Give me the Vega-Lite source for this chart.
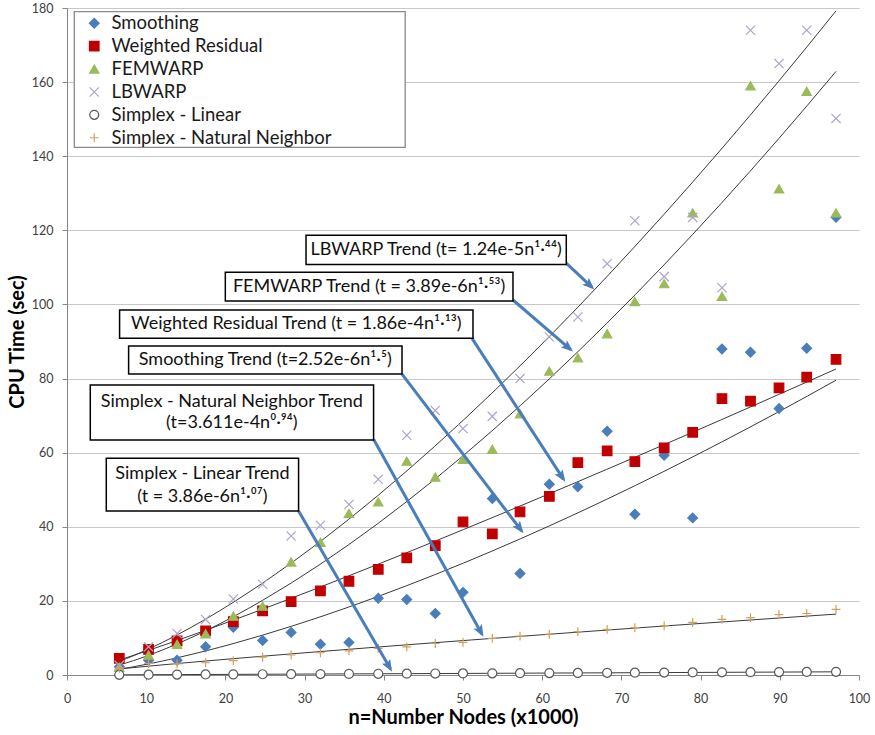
{
  "$schema": "https://vega.github.io/schema/vega-lite/v6.json",
  "width": 792,
  "height": 667,
  "autosize": {"type": "none"},
  "padding": {"left": 67, "top": 8, "right": 16, "bottom": 60},
  "background": "white",
  "config": {
    "font": "Lato",
    "view": {"stroke": null},
    "axisX": {"grid": false, "domainColor": "#868686", "tickColor": "#868686", "tickSize": 5, "labelFontSize": 12.5, "labelColor": "#404040", "labelPadding": 12, "labelFlush": false, "titleFontSize": 20, "titleFontWeight": "bold", "titleColor": "#000000", "titlePadding": 3},
    "axisY": {"grid": true, "gridColor": "#c8c8c8", "domainColor": "#868686", "tickColor": "#868686", "tickSize": 5, "labelFontSize": 12.5, "labelColor": "#404040", "labelPadding": 9, "titleFontSize": 20, "titleFontWeight": "bold", "titleColor": "#000000", "titlePadding": 4},
    "legend": {"labelFontSize": 18.5, "labelLimit": 400, "labelColor": "#1a1a1a", "labelFont": "Lato", "rowPadding": 3.9, "padding": 0, "symbolOffset": 0, "labelOffset": 8, "symbolStrokeWidth": 1.2, "strokeColor": null, "fillColor": null}
  },
  "datasets": {
    "points": [
      {"n": 6.6, "t": 2.2, "series": "Smoothing"},
      {"n": 10.3, "t": 4.0, "series": "Smoothing"},
      {"n": 13.9, "t": 4.0, "series": "Smoothing"},
      {"n": 17.5, "t": 7.6, "series": "Smoothing"},
      {"n": 21.0, "t": 12.9, "series": "Smoothing"},
      {"n": 24.7, "t": 9.3, "series": "Smoothing"},
      {"n": 28.3, "t": 11.5, "series": "Smoothing"},
      {"n": 32.0, "t": 8.3, "series": "Smoothing"},
      {"n": 35.6, "t": 8.8, "series": "Smoothing"},
      {"n": 39.3, "t": 20.7, "series": "Smoothing"},
      {"n": 42.9, "t": 20.4, "series": "Smoothing"},
      {"n": 46.5, "t": 16.6, "series": "Smoothing"},
      {"n": 50.0, "t": 22.3, "series": "Smoothing"},
      {"n": 53.7, "t": 47.6, "series": "Smoothing"},
      {"n": 57.2, "t": 27.4, "series": "Smoothing"},
      {"n": 60.9, "t": 51.5, "series": "Smoothing"},
      {"n": 64.5, "t": 50.8, "series": "Smoothing"},
      {"n": 68.2, "t": 65.8, "series": "Smoothing"},
      {"n": 71.7, "t": 43.4, "series": "Smoothing"},
      {"n": 75.4, "t": 59.3, "series": "Smoothing"},
      {"n": 79.0, "t": 42.4, "series": "Smoothing"},
      {"n": 82.7, "t": 88.0, "series": "Smoothing"},
      {"n": 86.3, "t": 87.1, "series": "Smoothing"},
      {"n": 89.9, "t": 71.9, "series": "Smoothing"},
      {"n": 93.4, "t": 88.2, "series": "Smoothing"},
      {"n": 97.1, "t": 123.5, "series": "Smoothing"},
      {"n": 6.6, "t": 4.5, "series": "Weighted Residual"},
      {"n": 10.3, "t": 6.9, "series": "Weighted Residual"},
      {"n": 13.9, "t": 9.2, "series": "Weighted Residual"},
      {"n": 17.5, "t": 11.9, "series": "Weighted Residual"},
      {"n": 21.0, "t": 14.4, "series": "Weighted Residual"},
      {"n": 24.7, "t": 17.3, "series": "Weighted Residual"},
      {"n": 28.3, "t": 19.8, "series": "Weighted Residual"},
      {"n": 32.0, "t": 22.7, "series": "Weighted Residual"},
      {"n": 35.6, "t": 25.3, "series": "Weighted Residual"},
      {"n": 39.3, "t": 28.5, "series": "Weighted Residual"},
      {"n": 42.9, "t": 31.6, "series": "Weighted Residual"},
      {"n": 46.5, "t": 34.9, "series": "Weighted Residual"},
      {"n": 50.0, "t": 41.3, "series": "Weighted Residual"},
      {"n": 53.7, "t": 38.1, "series": "Weighted Residual"},
      {"n": 57.2, "t": 44.0, "series": "Weighted Residual"},
      {"n": 60.9, "t": 48.2, "series": "Weighted Residual"},
      {"n": 64.5, "t": 57.3, "series": "Weighted Residual"},
      {"n": 68.2, "t": 60.5, "series": "Weighted Residual"},
      {"n": 71.7, "t": 57.6, "series": "Weighted Residual"},
      {"n": 75.4, "t": 61.3, "series": "Weighted Residual"},
      {"n": 79.0, "t": 65.5, "series": "Weighted Residual"},
      {"n": 82.7, "t": 74.6, "series": "Weighted Residual"},
      {"n": 86.3, "t": 73.9, "series": "Weighted Residual"},
      {"n": 89.9, "t": 77.5, "series": "Weighted Residual"},
      {"n": 93.4, "t": 80.4, "series": "Weighted Residual"},
      {"n": 97.1, "t": 85.2, "series": "Weighted Residual"},
      {"n": 6.6, "t": 2.1, "series": "FEMWARP"},
      {"n": 10.3, "t": 5.4, "series": "FEMWARP"},
      {"n": 13.9, "t": 8.3, "series": "FEMWARP"},
      {"n": 17.5, "t": 11.1, "series": "FEMWARP"},
      {"n": 21.0, "t": 15.9, "series": "FEMWARP"},
      {"n": 24.7, "t": 18.6, "series": "FEMWARP"},
      {"n": 28.3, "t": 30.5, "series": "FEMWARP"},
      {"n": 32.0, "t": 35.8, "series": "FEMWARP"},
      {"n": 35.6, "t": 43.6, "series": "FEMWARP"},
      {"n": 39.3, "t": 46.7, "series": "FEMWARP"},
      {"n": 42.9, "t": 57.7, "series": "FEMWARP"},
      {"n": 46.5, "t": 53.4, "series": "FEMWARP"},
      {"n": 50.0, "t": 58.2, "series": "FEMWARP"},
      {"n": 53.7, "t": 60.9, "series": "FEMWARP"},
      {"n": 57.2, "t": 70.5, "series": "FEMWARP"},
      {"n": 60.9, "t": 82.0, "series": "FEMWARP"},
      {"n": 64.5, "t": 85.6, "series": "FEMWARP"},
      {"n": 68.2, "t": 92.1, "series": "FEMWARP"},
      {"n": 71.7, "t": 100.8, "series": "FEMWARP"},
      {"n": 75.4, "t": 105.6, "series": "FEMWARP"},
      {"n": 79.0, "t": 124.7, "series": "FEMWARP"},
      {"n": 82.7, "t": 102.2, "series": "FEMWARP"},
      {"n": 86.3, "t": 159.0, "series": "FEMWARP"},
      {"n": 89.9, "t": 131.2, "series": "FEMWARP"},
      {"n": 93.4, "t": 157.5, "series": "FEMWARP"},
      {"n": 97.1, "t": 124.7, "series": "FEMWARP"},
      {"n": 6.6, "t": 2.6, "series": "LBWARP"},
      {"n": 10.3, "t": 7.6, "series": "LBWARP"},
      {"n": 13.9, "t": 11.2, "series": "LBWARP"},
      {"n": 17.5, "t": 15.0, "series": "LBWARP"},
      {"n": 21.0, "t": 20.5, "series": "LBWARP"},
      {"n": 24.7, "t": 24.5, "series": "LBWARP"},
      {"n": 28.3, "t": 37.5, "series": "LBWARP"},
      {"n": 32.0, "t": 40.4, "series": "LBWARP"},
      {"n": 35.6, "t": 46.0, "series": "LBWARP"},
      {"n": 39.3, "t": 52.8, "series": "LBWARP"},
      {"n": 42.9, "t": 64.7, "series": "LBWARP"},
      {"n": 46.5, "t": 71.4, "series": "LBWARP"},
      {"n": 50.0, "t": 66.5, "series": "LBWARP"},
      {"n": 53.7, "t": 69.8, "series": "LBWARP"},
      {"n": 57.2, "t": 80.0, "series": "LBWARP"},
      {"n": 60.9, "t": 91.2, "series": "LBWARP"},
      {"n": 64.5, "t": 96.6, "series": "LBWARP"},
      {"n": 68.2, "t": 111.0, "series": "LBWARP"},
      {"n": 71.7, "t": 122.6, "series": "LBWARP"},
      {"n": 75.4, "t": 107.5, "series": "LBWARP"},
      {"n": 79.0, "t": 123.5, "series": "LBWARP"},
      {"n": 82.7, "t": 104.5, "series": "LBWARP"},
      {"n": 86.3, "t": 174.0, "series": "LBWARP"},
      {"n": 89.9, "t": 165.0, "series": "LBWARP"},
      {"n": 93.4, "t": 174.0, "series": "LBWARP"},
      {"n": 97.1, "t": 150.2, "series": "LBWARP"},
      {"n": 6.6, "t": 0.05, "series": "Simplex - Linear"},
      {"n": 10.3, "t": 0.08, "series": "Simplex - Linear"},
      {"n": 13.9, "t": 0.11, "series": "Simplex - Linear"},
      {"n": 17.5, "t": 0.14, "series": "Simplex - Linear"},
      {"n": 21.0, "t": 0.17, "series": "Simplex - Linear"},
      {"n": 24.7, "t": 0.2, "series": "Simplex - Linear"},
      {"n": 28.3, "t": 0.23, "series": "Simplex - Linear"},
      {"n": 32.0, "t": 0.26, "series": "Simplex - Linear"},
      {"n": 35.6, "t": 0.3, "series": "Simplex - Linear"},
      {"n": 39.3, "t": 0.33, "series": "Simplex - Linear"},
      {"n": 42.9, "t": 0.36, "series": "Simplex - Linear"},
      {"n": 46.5, "t": 0.4, "series": "Simplex - Linear"},
      {"n": 50.0, "t": 0.43, "series": "Simplex - Linear"},
      {"n": 53.7, "t": 0.46, "series": "Simplex - Linear"},
      {"n": 57.2, "t": 0.49, "series": "Simplex - Linear"},
      {"n": 60.9, "t": 0.52, "series": "Simplex - Linear"},
      {"n": 64.5, "t": 0.56, "series": "Simplex - Linear"},
      {"n": 68.2, "t": 0.59, "series": "Simplex - Linear"},
      {"n": 71.7, "t": 0.62, "series": "Simplex - Linear"},
      {"n": 75.4, "t": 0.66, "series": "Simplex - Linear"},
      {"n": 79.0, "t": 0.69, "series": "Simplex - Linear"},
      {"n": 82.7, "t": 0.72, "series": "Simplex - Linear"},
      {"n": 86.3, "t": 0.76, "series": "Simplex - Linear"},
      {"n": 89.9, "t": 0.79, "series": "Simplex - Linear"},
      {"n": 93.4, "t": 0.82, "series": "Simplex - Linear"},
      {"n": 97.1, "t": 0.86, "series": "Simplex - Linear"},
      {"n": 6.6, "t": 1.8, "series": "Simplex - Natural Neighbor"},
      {"n": 10.3, "t": 3.1, "series": "Simplex - Natural Neighbor"},
      {"n": 13.9, "t": 3.0, "series": "Simplex - Natural Neighbor"},
      {"n": 17.5, "t": 3.3, "series": "Simplex - Natural Neighbor"},
      {"n": 21.0, "t": 3.9, "series": "Simplex - Natural Neighbor"},
      {"n": 24.7, "t": 4.8, "series": "Simplex - Natural Neighbor"},
      {"n": 28.3, "t": 5.4, "series": "Simplex - Natural Neighbor"},
      {"n": 32.0, "t": 6.0, "series": "Simplex - Natural Neighbor"},
      {"n": 35.6, "t": 6.5, "series": "Simplex - Natural Neighbor"},
      {"n": 39.3, "t": 7.2, "series": "Simplex - Natural Neighbor"},
      {"n": 42.9, "t": 7.6, "series": "Simplex - Natural Neighbor"},
      {"n": 46.5, "t": 8.5, "series": "Simplex - Natural Neighbor"},
      {"n": 50.0, "t": 8.8, "series": "Simplex - Natural Neighbor"},
      {"n": 53.7, "t": 9.9, "series": "Simplex - Natural Neighbor"},
      {"n": 57.2, "t": 10.5, "series": "Simplex - Natural Neighbor"},
      {"n": 60.9, "t": 11.0, "series": "Simplex - Natural Neighbor"},
      {"n": 64.5, "t": 11.7, "series": "Simplex - Natural Neighbor"},
      {"n": 68.2, "t": 12.3, "series": "Simplex - Natural Neighbor"},
      {"n": 71.7, "t": 12.8, "series": "Simplex - Natural Neighbor"},
      {"n": 75.4, "t": 13.3, "series": "Simplex - Natural Neighbor"},
      {"n": 79.0, "t": 14.2, "series": "Simplex - Natural Neighbor"},
      {"n": 82.7, "t": 15.0, "series": "Simplex - Natural Neighbor"},
      {"n": 86.3, "t": 15.5, "series": "Simplex - Natural Neighbor"},
      {"n": 89.9, "t": 16.3, "series": "Simplex - Natural Neighbor"},
      {"n": 93.4, "t": 16.6, "series": "Simplex - Natural Neighbor"},
      {"n": 97.1, "t": 17.7, "series": "Simplex - Natural Neighbor"}
    ],
    "frame": [
      {"x1": 0.92, "x2": 42.7, "y1": 179.0, "y2": 142.4}
    ],
    "boxes": [
      {"label": "LBWARP", "x1": 30.18, "x2": 63.04, "y1": 118.7, "y2": 110.8},
      {"label": "FEMWARP", "x1": 19.99, "x2": 56.31, "y1": 108.66, "y2": 100.92},
      {"label": "WR", "x1": 6.64, "x2": 51.26, "y1": 98.49, "y2": 90.85},
      {"label": "Smoothing", "x1": 7.78, "x2": 42.3, "y1": 88.77, "y2": 81.22},
      {"label": "NN", "x1": 2.94, "x2": 38.71, "y1": 78.25, "y2": 63.41},
      {"label": "SL", "x1": 4.96, "x2": 29.24, "y1": 58.47, "y2": 44.25}
    ],
    "texts": [
      {"text": "LBWARP Trend (t= 1.24e-5n¹·⁴⁴)", "x": 46.6, "y": 114.75},
      {"text": "FEMWARP  Trend (t = 3.89e-6n¹·⁵³)", "x": 38.15, "y": 104.8},
      {"text": "Weighted Residual Trend (t = 1.86e-4n¹·¹³)", "x": 28.95, "y": 94.67},
      {"text": "Smoothing Trend (t=2.52e-6n¹·⁵)", "x": 25.04, "y": 85.0},
      {"text": "Simplex - Natural Neighbor Trend", "x": 20.82, "y": 73.7},
      {"text": "(t=3.611e-4n⁰·⁹⁴)", "x": 20.82, "y": 67.9},
      {"text": "Simplex - Linear Trend", "x": 17.1, "y": 54.2},
      {"text": "(t = 3.86e-6n¹·⁰⁷)", "x": 17.1, "y": 48.1}
    ],
    "arrows": [
      {"label": "LBWARP", "x1": 62.9, "y1": 111.4, "x2": 66.3, "y2": 104.6},
      {"label": "FEMWARP", "x1": 56.31, "y1": 101.2, "x2": 63.6, "y2": 87.8},
      {"label": "WR", "x1": 51.14, "y1": 90.85, "x2": 62.7, "y2": 52.8},
      {"label": "Smoothing", "x1": 42.3, "y1": 81.22, "x2": 57.4, "y2": 38.9},
      {"label": "NN", "x1": 38.71, "y1": 63.6, "x2": 52.4, "y2": 11.0},
      {"label": "SL", "x1": 29.24, "y1": 44.25, "x2": 40.85, "y2": 1.6}
    ]
  },
  "layer": [
    {
      "data": {"name": "frame"},
      "mark": {"type": "rect", "fill": "#ffffff", "stroke": "#8a8a8a", "strokeWidth": 1.3},
      "encoding": {
        "x": {"field": "x1", "type": "quantitative", "scale": {"domain": [0, 100], "nice": false}, "axis": {"values": [0,10,20,30,40,50,60,70,80,90,100], "title": "n=Number Nodes (x1000)"}},
        "x2": {"field": "x2"},
        "y": {"field": "y1", "type": "quantitative", "scale": {"domain": [0, 180], "nice": false}, "axis": {"values": [0,20,40,60,80,100,120,140,160,180], "title": "CPU Time (sec)"}},
        "y2": {"field": "y2"}
      }
    },
    {
      "data": {"name": "points"},
      "transform": [{"regression": "t", "on": "n", "groupby": ["series"], "method": "pow"}],
      "mark": {"type": "line", "color": "#3a3a3a", "strokeWidth": 1, "clip": true},
      "encoding": {
        "x": {"field": "n", "type": "quantitative", "scale": {"domain": [0, 100], "nice": false}, "axis": {"values": [0,10,20,30,40,50,60,70,80,90,100], "title": "n=Number Nodes (x1000)"}},
        "y": {"field": "t", "type": "quantitative", "scale": {"domain": [0, 180], "nice": false}, "axis": {"values": [0,20,40,60,80,100,120,140,160,180], "title": "CPU Time (sec)"}},
        "detail": {"field": "series", "type": "nominal"}
      }
    },
    {
      "data": {"name": "points"},
      "mark": {"type": "point", "opacity": 1, "strokeWidth": 1.2},
      "encoding": {
        "x": {"field": "n", "type": "quantitative", "scale": {"domain": [0, 100], "nice": false}, "axis": {"values": [0,10,20,30,40,50,60,70,80,90,100], "title": "n=Number Nodes (x1000)"}},
        "y": {"field": "t", "type": "quantitative", "scale": {"domain": [0, 180], "nice": false}, "axis": {"values": [0,20,40,60,80,100,120,140,160,180], "title": "CPU Time (sec)"}},
        "fill": {"field": "series", "type": "nominal", "scale": {"domain": ["Smoothing", "Weighted Residual", "FEMWARP", "LBWARP", "Simplex - Linear", "Simplex - Natural Neighbor"], "range": ["#4A7EBB", "#C00000", "#9BBB59", "transparent", "#ffffff", "transparent"]}, "legend": {"orient": "none", "legendX": 18, "legendY": 6, "title": null}},
        "stroke": {"field": "series", "type": "nominal", "scale": {"domain": ["Smoothing", "Weighted Residual", "FEMWARP", "LBWARP", "Simplex - Linear", "Simplex - Natural Neighbor"], "range": ["#4A7EBB", "#C00000", "#9BBB59", "#AFA3CC", "#5a5a5a", "#D2A05E"]}, "legend": {"orient": "none", "legendX": 18, "legendY": 6, "title": null}},
        "shape": {"field": "series", "type": "nominal", "scale": {"domain": ["Smoothing", "Weighted Residual", "FEMWARP", "LBWARP", "Simplex - Linear", "Simplex - Natural Neighbor"], "range": ["diamond", "square", "triangle-up", "M-1,-1L1,1M-1,1L1,-1", "circle", "M-1,0L1,0M0,-1L0,1"]}, "legend": {"orient": "none", "legendX": 18, "legendY": 6, "title": null}},
        "size": {"field": "series", "type": "nominal", "scale": {"domain": ["Smoothing", "Weighted Residual", "FEMWARP", "LBWARP", "Simplex - Linear", "Simplex - Natural Neighbor"], "range": [95, 78, 105, 115, 120, 100]}, "legend": {"orient": "none", "legendX": 18, "legendY": 6, "title": null}}
      }
    },
    {
      "data": {"name": "arrows"},
      "mark": {"type": "rule", "color": "#4A7EBB", "strokeWidth": 3},
      "encoding": {
        "x": {"field": "x1", "type": "quantitative", "scale": {"domain": [0, 100], "nice": false}, "axis": {"values": [0,10,20,30,40,50,60,70,80,90,100], "title": "n=Number Nodes (x1000)"}},
        "y": {"field": "y1", "type": "quantitative", "scale": {"domain": [0, 180], "nice": false}, "axis": {"values": [0,20,40,60,80,100,120,140,160,180], "title": "CPU Time (sec)"}},
        "x2": {"field": "x2"},
        "y2": {"field": "y2"}
      }
    },
    {
      "data": {"name": "arrows"},
      "transform": [{"filter": "datum.label == 'LBWARP'"}],
      "mark": {"type": "point", "shape": "M0,-0.5L0.8,1.5L0,1.1L-0.8,1.5Z", "size": 144, "filled": true, "opacity": 1, "color": "#4A7EBB", "angle": 132.9},
      "encoding": {"x": {"field": "x2", "type": "quantitative", "scale": {"domain": [0, 100], "nice": false}, "axis": {"values": [0,10,20,30,40,50,60,70,80,90,100], "title": "n=Number Nodes (x1000)"}}, "y": {"field": "y2", "type": "quantitative", "scale": {"domain": [0, 180], "nice": false}, "axis": {"values": [0,20,40,60,80,100,120,140,160,180], "title": "CPU Time (sec)"}}}
    },
    {
      "data": {"name": "arrows"},
      "transform": [{"filter": "datum.label == 'FEMWARP'"}],
      "mark": {"type": "point", "shape": "M0,-0.5L0.8,1.5L0,1.1L-0.8,1.5Z", "size": 144, "filled": true, "opacity": 1, "color": "#4A7EBB", "angle": 130.5},
      "encoding": {"x": {"field": "x2", "type": "quantitative", "scale": {"domain": [0, 100], "nice": false}, "axis": {"values": [0,10,20,30,40,50,60,70,80,90,100], "title": "n=Number Nodes (x1000)"}}, "y": {"field": "y2", "type": "quantitative", "scale": {"domain": [0, 180], "nice": false}, "axis": {"values": [0,20,40,60,80,100,120,140,160,180], "title": "CPU Time (sec)"}}}
    },
    {
      "data": {"name": "arrows"},
      "transform": [{"filter": "datum.label == 'WR'"}],
      "mark": {"type": "point", "shape": "M0,-0.5L0.8,1.5L0,1.1L-0.8,1.5Z", "size": 144, "filled": true, "opacity": 1, "color": "#4A7EBB", "angle": 146.9},
      "encoding": {"x": {"field": "x2", "type": "quantitative", "scale": {"domain": [0, 100], "nice": false}, "axis": {"values": [0,10,20,30,40,50,60,70,80,90,100], "title": "n=Number Nodes (x1000)"}}, "y": {"field": "y2", "type": "quantitative", "scale": {"domain": [0, 180], "nice": false}, "axis": {"values": [0,20,40,60,80,100,120,140,160,180], "title": "CPU Time (sec)"}}}
    },
    {
      "data": {"name": "arrows"},
      "transform": [{"filter": "datum.label == 'Smoothing'"}],
      "mark": {"type": "point", "shape": "M0,-0.5L0.8,1.5L0,1.1L-0.8,1.5Z", "size": 144, "filled": true, "opacity": 1, "color": "#4A7EBB", "angle": 142.6},
      "encoding": {"x": {"field": "x2", "type": "quantitative", "scale": {"domain": [0, 100], "nice": false}, "axis": {"values": [0,10,20,30,40,50,60,70,80,90,100], "title": "n=Number Nodes (x1000)"}}, "y": {"field": "y2", "type": "quantitative", "scale": {"domain": [0, 180], "nice": false}, "axis": {"values": [0,20,40,60,80,100,120,140,160,180], "title": "CPU Time (sec)"}}}
    },
    {
      "data": {"name": "arrows"},
      "transform": [{"filter": "datum.label == 'NN'"}],
      "mark": {"type": "point", "shape": "M0,-0.5L0.8,1.5L0,1.1L-0.8,1.5Z", "size": 144, "filled": true, "opacity": 1, "color": "#4A7EBB", "angle": 150.9},
      "encoding": {"x": {"field": "x2", "type": "quantitative", "scale": {"domain": [0, 100], "nice": false}, "axis": {"values": [0,10,20,30,40,50,60,70,80,90,100], "title": "n=Number Nodes (x1000)"}}, "y": {"field": "y2", "type": "quantitative", "scale": {"domain": [0, 180], "nice": false}, "axis": {"values": [0,20,40,60,80,100,120,140,160,180], "title": "CPU Time (sec)"}}}
    },
    {
      "data": {"name": "arrows"},
      "transform": [{"filter": "datum.label == 'SL'"}],
      "mark": {"type": "point", "shape": "M0,-0.5L0.8,1.5L0,1.1L-0.8,1.5Z", "size": 144, "filled": true, "opacity": 1, "color": "#4A7EBB", "angle": 149.8},
      "encoding": {"x": {"field": "x2", "type": "quantitative", "scale": {"domain": [0, 100], "nice": false}, "axis": {"values": [0,10,20,30,40,50,60,70,80,90,100], "title": "n=Number Nodes (x1000)"}}, "y": {"field": "y2", "type": "quantitative", "scale": {"domain": [0, 180], "nice": false}, "axis": {"values": [0,20,40,60,80,100,120,140,160,180], "title": "CPU Time (sec)"}}}
    },
    {
      "data": {"name": "boxes"},
      "mark": {"type": "rect", "fill": "#ffffff", "stroke": "#000000", "strokeWidth": 1.5},
      "encoding": {
        "x": {"field": "x1", "type": "quantitative", "scale": {"domain": [0, 100], "nice": false}, "axis": {"values": [0,10,20,30,40,50,60,70,80,90,100], "title": "n=Number Nodes (x1000)"}},
        "x2": {"field": "x2"},
        "y": {"field": "y1", "type": "quantitative", "scale": {"domain": [0, 180], "nice": false}, "axis": {"values": [0,20,40,60,80,100,120,140,160,180], "title": "CPU Time (sec)"}},
        "y2": {"field": "y2"}
      }
    },
    {
      "data": {"name": "texts"},
      "mark": {"type": "text", "font": "Lato", "fontSize": 18, "color": "#111111", "align": "center", "baseline": "middle"},
      "encoding": {
        "x": {"field": "x", "type": "quantitative", "scale": {"domain": [0, 100], "nice": false}, "axis": {"values": [0,10,20,30,40,50,60,70,80,90,100], "title": "n=Number Nodes (x1000)"}},
        "y": {"field": "y", "type": "quantitative", "scale": {"domain": [0, 180], "nice": false}, "axis": {"values": [0,20,40,60,80,100,120,140,160,180], "title": "CPU Time (sec)"}},
        "text": {"field": "text"}
      }
    }
  ]
}
